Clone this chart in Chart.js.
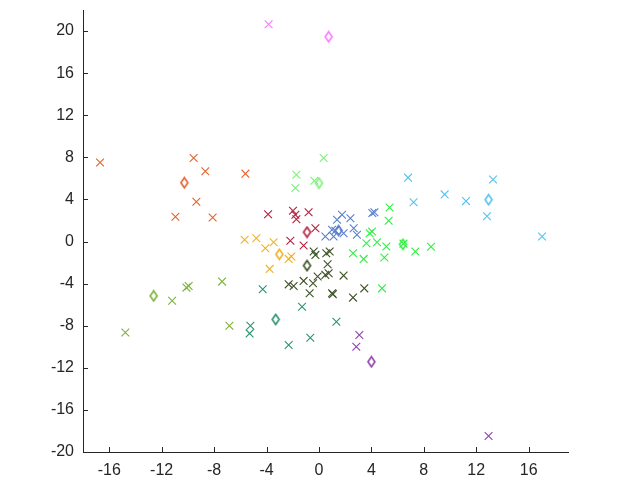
<!DOCTYPE html>
<html>
<head>
<meta charset="utf-8">
<script src="https://cdn.jsdelivr.net/npm/chart.js@4.4.1/dist/chart.umd.min.js"></script>
<style>
  html, body { margin: 0; padding: 0; background: #fff; }
  #wrap { width: 623px; height: 478px; }
</style>
</head>
<body>
<div id="wrap"><canvas id="scatter-chart" width="623" height="478"></canvas></div>
<script>
// cluster members, [x, y]
var orangePts = [[-16.7,7.5],[-9.56,7.93],[-8.67,6.67],[-5.61,6.45],[-9.35,3.78],[-10.95,2.35],[-8.11,2.29]];
var yellowPts = [[-5.67,0.16],[-4.78,0.31],[-4.09,-0.64],[-3.46,-0.07],[-2.31,-1.65],[-2.1,-1.43],[-3.76,-2.6]];
var lightGreenPts = [[-1.72,6.35],[-1.8,5.08],[-0.35,5.78],[0.36,7.93]];
var crimsonPts = [[-3.88,2.6],[-1.98,2.92],[-1.8,2.54],[-1.72,2.12],[-0.79,2.79],[-0.27,1.27],[-2.18,0.07],[-1.17,-0.38]];
var bluePts = [[1.76,2.54],[2.4,2.22],[1.38,2.07],[4.23,2.79],[4.07,2.71],[1.0,1.11],[1.88,0.79],[2.65,1.27],[2.9,0.64],[0.49,0.48],[1.12,0.48],[1.25,1.02]];
var greenPts = [[5.39,3.24],[5.32,1.97],[4.05,0.95],[3.87,0.79],[3.62,-0.16],[4.43,-0.07],[5.14,-0.48],[2.6,-1.11],[3.41,-1.65],[4.99,-1.52],[4.81,-4.45],[6.45,-0.2],[7.35,-0.95],[8.55,-0.5]];
var skyBluePts = [[6.8,6.07],[13.28,5.9],[7.22,3.74],[9.59,4.48],[11.22,3.84],[12.82,2.41],[17.02,0.48]];
var pinkPts = [[-3.84,20.64]];
var olivePts = [[-11.2,-5.62],[-14.77,-8.64],[-9.94,-4.22],[-10.11,-4.38],[-7.39,-3.81],[-6.83,-8.0]];
var tealPts = [[-4.29,-4.54],[-5.23,-8.0],[-5.29,-8.73],[-2.31,-9.84],[-1.29,-6.19],[-0.66,-9.14],[1.33,-7.62]];
var darkOlivePts = [[-0.4,-0.95],[-0.27,-1.27],[0.56,-1.11],[0.82,-0.95],[0.66,-2.16],[0.74,-3.02],[0.49,-3.17],[-0.1,-3.33],[1.88,-3.24],[-1.17,-3.74],[-0.45,-3.97],[-2.31,-4.07],[-1.93,-4.22],[-0.71,-4.92],[1.0,-4.92],[1.06,-5.0],[2.6,-5.33],[3.46,-4.45]];
var purplePts = [[3.08,-8.89],[2.85,-10.0],[12.94,-18.48]];

// cluster centres (diamonds), same order as the colours below
var centroids = [[-10.27,5.59],[-3.02,-1.21],[0.0,5.55],[-0.91,0.89],[1.5,1.05],[6.41,-0.26],[12.94,3.97],[0.74,19.46],[-12.61,-5.17],[-3.3,-7.4],[-0.91,-2.29],[4.0,-11.43]];

var clusterPts = [orangePts, yellowPts, lightGreenPts, crimsonPts, bluePts, greenPts, skyBluePts, pinkPts, olivePts, tealPts, darkOlivePts, purplePts];
var clusterColors = ["#E4632D", "#F2B028", "#7DF07A", "#B2213F", "#5A7FCC", "#33EE44", "#55C3F0", "#FF77FF", "#7DB23A", "#2C9373", "#3D5227", "#8E44AD"];

var xTicks = [-16, -12, -8, -4, 0, 4, 8, 12, 16];
var yTicks = [-20, -16, -12, -8, -4, 0, 4, 8, 12, 16, 20];

var axisColor = "#262626";

function toXY(arr) {
    return arr.map(function (p) { return { x: p[0], y: p[1] }; });
}

// tall hollow diamond, like the one matlab draws
function makeDiamond(col) {
    var c = document.createElement("canvas");
    c.width = 11;
    c.height = 13;
    var g = c.getContext("2d");
    g.strokeStyle = col;
    g.lineWidth = 1.6;
    g.beginPath();
    g.moveTo(5.5, 1.5);
    g.lineTo(9, 6.5);
    g.lineTo(5.5, 11.5);
    g.lineTo(2, 6.5);
    g.closePath();
    g.stroke();
    return c;
}

// ticks pointing into the plot
var innerTicks = {
    id: "innerTicks",
    afterDraw: function (chart) {
        var ctx = chart.ctx;
        var area = chart.chartArea;
        var xs = chart.scales.x, ys = chart.scales.y;
        ctx.save();
        ctx.strokeStyle = axisColor;
        ctx.lineWidth = 1;
        ctx.beginPath();
        xTicks.forEach(function (v) {
            var px = Math.round(xs.getPixelForValue(v)) + 0.5;
            ctx.moveTo(px, area.bottom);
            ctx.lineTo(px, area.bottom - 5);
        });
        yTicks.forEach(function (v) {
            var py = Math.round(ys.getPixelForValue(v)) + 0.5;
            ctx.moveTo(area.left, py);
            ctx.lineTo(area.left + 5, py);
        });
        ctx.stroke();
        ctx.restore();
    }
};

function scatterDisplay() {
    var datasets = [];
    clusterPts.forEach(function (pts, i) {
        datasets.push({
            data: toXY(pts),
            pointStyle: "crossRot",
            pointRadius: 5.5,
            borderWidth: 1.1,
            borderColor: clusterColors[i],
            backgroundColor: clusterColors[i]
        });
    });
    centroids.forEach(function (c, i) {
        datasets.push({
            data: toXY([c]),
            pointStyle: makeDiamond(clusterColors[i]),
            pointRadius: 6,
            borderColor: clusterColors[i],
            backgroundColor: "rgba(0,0,0,0)"
        });
    });

    new Chart(document.getElementById("scatter-chart"), {
        type: "scatter",
        data: { datasets: datasets },
        options: {
            responsive: false,
            animation: false,
            events: [],
            layout: { padding: { top: 10, right: 55, bottom: 0, left: 0 } },
            plugins: {
                legend: { display: false },
                tooltip: { enabled: false }
            },
            scales: {
                x: {
                    type: "linear",
                    min: -18,
                    max: 19,
                    afterFit: function (s) {
                        s.height = 26;
                        s.paddingLeft = 0;
                        s.paddingRight = 0;
                    },
                    grid: { display: false, drawTicks: false },
                    border: { display: true, color: axisColor, width: 1 },
                    ticks: {
                        stepSize: 4,
                        includeBounds: false,
                        padding: 9,
                        color: axisColor,
                        maxRotation: 0,
                        font: { family: "'Liberation Sans', Arial, sans-serif", size: 16 }
                    }
                },
                y: {
                    type: "linear",
                    min: -20,
                    max: 22,
                    afterFit: function (s) {
                        s.width = 83;
                        s.paddingTop = 0;
                        s.paddingBottom = 0;
                    },
                    grid: { display: false, drawTicks: false },
                    border: { display: true, color: axisColor, width: 1 },
                    ticks: {
                        stepSize: 4,
                        includeBounds: false,
                        padding: 9,
                        color: axisColor,
                        font: { family: "'Liberation Sans', Arial, sans-serif", size: 16 }
                    }
                }
            }
        },
        plugins: [innerTicks]
    });
}

scatterDisplay();
</script>
</body>
</html>
